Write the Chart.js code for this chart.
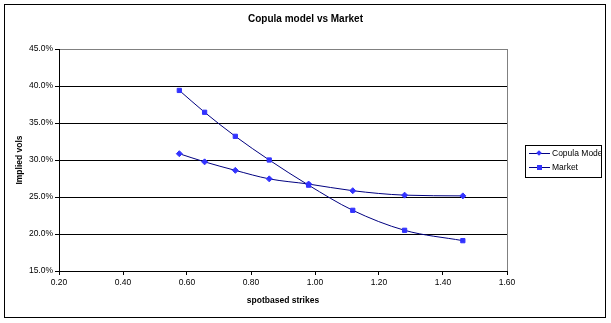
<!DOCTYPE html>
<html>
<head>
<meta charset="utf-8">
<script src="https://cdn.jsdelivr.net/npm/chart.js@4"></script>
<style>
    body { margin: 0; background: #fff; }
    #wrap { position: relative; width: 611px; height: 323px; font-family: "Liberation Sans", Arial, sans-serif; }
    #frame { position: absolute; left: 4px; top: 4px; width: 600px; height: 312px; border: 1px solid #000; }
    #title { position: absolute; left: 0; width: 611px; top: 13px; text-align: center; font-weight: bold; font-size: 10px; }
    #legend { position: absolute; left: 525px; top: 145px; width: 75px; height: 31px; border: 1px solid #000;
              background: #fff; overflow: hidden; white-space: nowrap; font-size: 8.5px; }
    .row { position: absolute; left: 0; height: 10px; }
    .sample { position: absolute; left: 3px; top: 4px; width: 21px; height: 1px; background: #000080; }
    .mark { position: absolute; background: #3333ff; }
    .diamond { left: 8px; top: -2px; width: 4px; height: 4px; transform: rotate(45deg); }
    .square { left: 8px; top: -2px; width: 5px; height: 5px; }
    .label { position: absolute; left: 26px; top: -1px; }
</style>
</head>
<body>
<div id="wrap">
    <canvas id="vols_chart" width="611" height="323"></canvas>
    <div id="frame"></div>
    <div id="title">Copula model vs Market</div>
    <div id="legend">
        <div class="row" style="top:3px"><div class="sample"><div class="mark diamond"></div></div><span class="label">Copula Model</span></div>
        <div class="row" style="top:17px"><div class="sample"><div class="mark square"></div></div><span class="label">Market</span></div>
    </div>
</div>
<script>
const strikes = [0.576, 0.655, 0.751, 0.857, 0.980, 1.118, 1.280, 1.462]
const copula_vols = [30.85, 29.75, 28.6, 27.45, 26.75, 25.85, 25.25, 25.15]
const market_vols = [39.4, 36.45, 33.2, 30.0, 26.6, 23.2, 20.5, 19.1]
const y_ticks = [15, 20, 25, 30, 35, 40, 45]
const x_ticks = [0.20, 0.40, 0.60, 0.80, 1.00, 1.20, 1.40, 1.60]

const font_family = '"Liberation Sans", Arial, sans-serif'

function to_points(xs, ys) {
    return xs.map((x, i) => ({ x: x, y: ys[i] }))
}

// grey right border of the plot area, like the Excel plot frame
const plot_frame = {
    id: 'plot_frame',
    afterDraw(chart) {
        const { ctx, chartArea } = chart
        ctx.save()
        ctx.strokeStyle = '#808080'
        ctx.lineWidth = 1
        ctx.beginPath()
        ctx.moveTo(Math.round(chartArea.right) + 0.5, chartArea.top)
        ctx.lineTo(Math.round(chartArea.right) + 0.5, chartArea.bottom)
        ctx.stroke()
        ctx.restore()
    }
}

new Chart(document.getElementById('vols_chart'), {
    type: 'line',
    data: {
        datasets: [{
            label: 'Copula Model',
            data: to_points(strikes, copula_vols),
            borderColor: '#000080',
            borderWidth: 1,
            backgroundColor: '#3333ff',
            pointBackgroundColor: '#3333ff',
            pointBorderColor: '#3333ff',
            pointStyle: 'rectRot',
            pointRadius: 3,
            cubicInterpolationMode: 'monotone'
        }, {
            label: 'Market',
            data: to_points(strikes, market_vols),
            borderColor: '#000080',
            borderWidth: 1,
            backgroundColor: '#3333ff',
            pointBackgroundColor: '#3333ff',
            pointBorderColor: '#3333ff',
            pointStyle: 'rect',
            pointRadius: 3,
            cubicInterpolationMode: 'monotone'
        }]
    },
    options: {
        responsive: false,
        animation: false,
        layout: { padding: { left: 0, top: 49, right: 104, bottom: 0 } },
        plugins: {
            legend: { display: false },
            tooltip: { enabled: false }
        },
        scales: {
            x: {
                type: 'linear',
                min: 0.2,
                max: 1.6,
                afterBuildTicks: (scale) => { scale.ticks = x_ticks.map(v => ({ value: v })) },
                afterFit: (scale) => { scale.height = 52 },
                ticks: {
                    color: '#000',
                    padding: 3,
                    maxRotation: 0,
                    font: { family: font_family, size: 8.5 },
                    callback: (v) => Number(v).toFixed(2)
                },
                grid: { drawOnChartArea: false, tickLength: 4, tickColor: '#000' },
                border: { color: '#000' },
                title: {
                    display: true,
                    text: 'spotbased strikes',
                    color: '#000',
                    padding: { top: 0, bottom: 17 },
                    font: { family: font_family, size: 8.5, weight: 'bold' }
                }
            },
            y: {
                min: 15,
                max: 45,
                afterBuildTicks: (scale) => { scale.ticks = y_ticks.map(v => ({ value: v })) },
                afterFit: (scale) => { scale.width = 59 },
                ticks: {
                    color: '#000',
                    padding: 2,
                    font: { family: font_family, size: 8.5 },
                    callback: (v) => Number(v).toFixed(1) + '%'
                },
                grid: {
                    tickLength: 4,
                    tickColor: '#000',
                    color: (c) => c.tick && c.tick.value === 45 ? '#808080' : '#000'
                },
                border: { color: '#000' },
                title: {
                    display: true,
                    text: 'Implied vols',
                    color: '#000',
                    padding: { top: 15, bottom: 0 },
                    font: { family: font_family, size: 8.5, weight: 'bold' }
                }
            }
        }
    },
    plugins: [plot_frame]
});
</script>
</body>
</html>
